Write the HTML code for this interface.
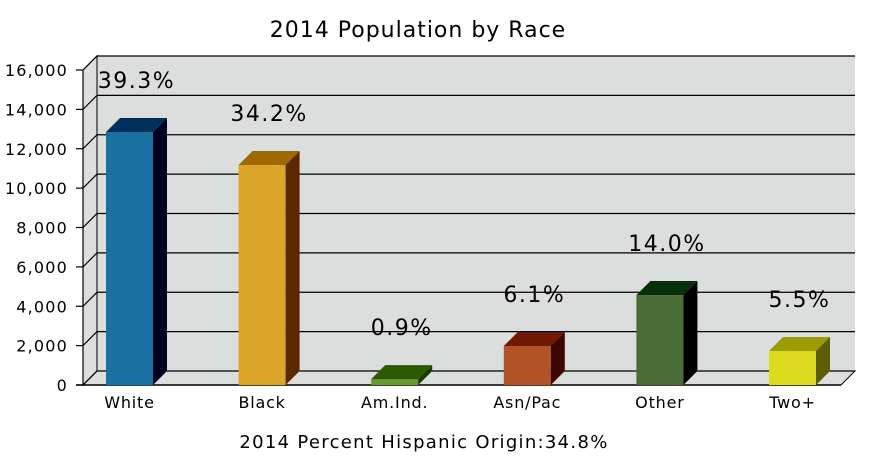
<!DOCTYPE html>
<html><head><meta charset="utf-8"><style>
html,body{margin:0;padding:0;background:#fff;}
svg{display:block;font-family:"DejaVu Sans","Liberation Sans",sans-serif;}
</style></head><body>
<svg id="chart" width="881" height="463" viewBox="0 0 881 463" xmlns="http://www.w3.org/2000/svg">
<text x="418" y="37" font-size="22" letter-spacing="1" text-anchor="middle" fill="#000">2014 Population by Race</text>
<text x="424" y="448" font-size="18" letter-spacing="1.3" text-anchor="middle" fill="#000">2014 Percent Hispanic Origin:34.8%</text>
<g id="plot"></g>
</svg>
<script>
const categories = ["White","Black","Am.Ind.","Asn/Pac","Other","Two+"];
const values = [12850, 11175, 300, 1980, 4570, 1730];
const percentLabels = ["39.3%","34.2%","0.9%","6.1%","14.0%","5.5%"];
const yTicks = [0,2000,4000,6000,8000,10000,12000,14000,16000];
const frontColors = ["#1a70a0","#dba628","#6a9a30","#b05428","#4a6c36","#dcdc1e"];
const topColors = ["#00305e","#a06800","#2a5a00","#701800","#083008","#9c9c00"];
const sideColors = ["#000020","#5c2800","#1a3a00","#3a0800","#000000","#5c5c00"];

const NS="http://www.w3.org/2000/svg";
const g=document.getElementById('plot');
const X0=83, X1=841, Y0=385, D=14, yMax=16000, H=315;
function yScale(v){return Y0 - v/yMax*H;}
function xBand(i){return X0 + 23 + i*132.6;}
function mk(tag,attrs){const e=document.createElementNS(NS,tag);for(const k in attrs)e.setAttribute(k,attrs[k]);g.appendChild(e);return e;}

const wall=mk('polygon',{points:`${X0+D},${yScale(yMax)-D} ${X1+D},${yScale(yMax)-D} ${X1+D},${Y0-D} ${X0+D},${Y0-D}`,fill:'#dcdddd'});


const lw=mk('polygon',{points:`${X0},${yScale(yMax)} ${X0+D},${yScale(yMax)-D} ${X0+D},${Y0-D} ${X0},${Y0}`,fill:'#dcdddd',stroke:'#000','stroke-width':1});


const fl=mk('polygon',{points:`${X0},${Y0} ${X0+D},${Y0-D} ${X1+D},${Y0-D} ${X1},${Y0}`,fill:'#dcdddd',stroke:'#000','stroke-width':1});



yTicks.forEach(t=>{
  const y=yScale(t);
  const gl=mk('polyline',{points:`${X0},${y} ${X0+D},${y-D} ${X1+D},${y-D}`,fill:'none',stroke:'#000','stroke-width':1.2});
  
  
  const tk=mk('line',{x1:X0-7,x2:X0,y1:y,y2:y,stroke:'#000','stroke-width':1.2});
  
  
  const tl=mk('text',{x:X0-15,y:y+6,'font-size':16,'letter-spacing':1.2,'text-anchor':'end',fill:'#000'});
  tl.textContent=t.toLocaleString('en-US');
  
  
});
const ax=mk('line',{x1:X0,x2:X0,y1:Y0,y2:yScale(yMax),stroke:'#000','stroke-width':1.2});


const bx=mk('line',{x1:X0-7,x2:X1,y1:Y0,y2:Y0,stroke:'#000','stroke-width':1.5});



const BW=47;
categories.forEach((c,i)=>{
  const x=xBand(i), y=yScale(values[i]);
  const f=mk('rect',{x:x,y:y,width:BW,height:Y0-y,fill:frontColors[i]});
  
  
  const tp=mk('polygon',{points:`${x},${y} ${x+D},${y-D} ${x+BW+D},${y-D} ${x+BW},${y}`,fill:topColors[i]});
  
  
  const sd=mk('polygon',{points:`${x+BW},${y} ${x+BW+D},${y-D} ${x+BW+D},${Y0-D} ${x+BW},${Y0}`,fill:sideColors[i]});
  
  
  const pl=mk('text',{x:x+BW/2+7,y:y-D-30,'font-size':22,'letter-spacing':1.5,'text-anchor':'middle',fill:'#000'});
  pl.textContent=percentLabels[i];
  
  
  const cl=mk('text',{x:x+BW/2,y:408,'font-size':16,'letter-spacing':0.8,'text-anchor':'middle',fill:'#000'});
  cl.textContent=c;
  
  
});
</script>
</body></html>
